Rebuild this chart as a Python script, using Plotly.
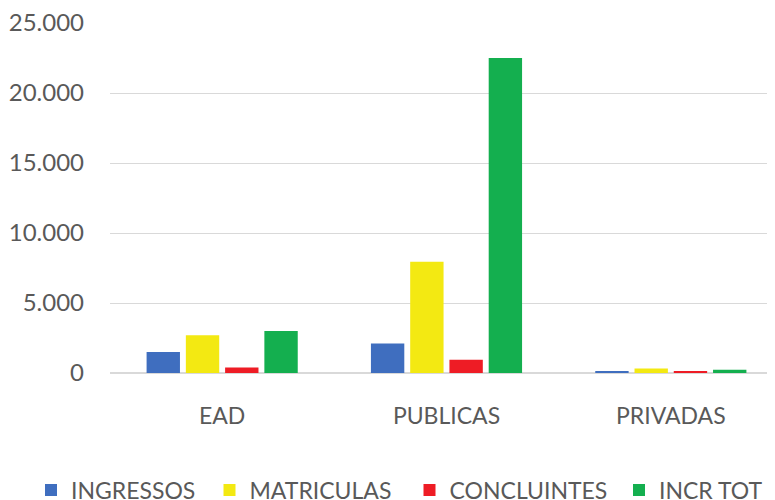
import plotly.graph_objects as go

categories = ["EAD", "PUBLICAS", "PRIVADAS"]
series_names = ["INGRESSOS", "MATRICULAS", "CONCLUINTES", "INCR TOT"]
ingressos = [1500, 2100, 120]
matriculas = [2700, 7950, 330]
concluintes = [400, 950, 120]
incr_tot = [3000, 22500, 230]
colors = ["#3F6EBF", "#F3E912", "#EE1C25", "#14AF4F"]
y_ticks = [0, 5000, 10000, 15000, 20000, 25000]

values = [ingressos, matriculas, concluintes, incr_tot]
legend_ids = ["legend", "legend2", "legend3", "legend4"]
legend_text_x = [63, 241.5, 441.5, 651]  # px where each legend label starts

fig = go.Figure()
for name, vals, col, lid in zip(series_names, values, colors, legend_ids):
    fig.add_trace(go.Bar(x=categories, y=vals, name=name, legend=lid,
                         marker=dict(color=col, line=dict(width=0))))

font = "Lato, Liberation Sans, sans-serif"
legend_layout = {}
for lid, tx in zip(legend_ids, legend_text_x):
    legend_layout[lid] = dict(orientation="h", x=(tx - 40) / 775, xanchor="left", xref="container",
                              y=0.036, yanchor="middle", yref="container",
                              font=dict(size=23, color="#595959"),
                              itemwidth=30, bgcolor="rgba(0,0,0,0)")

fig.update_layout(
    width=775, height=500,
    margin=dict(l=102, r=0, t=15, b=135, autoexpand=False),
    paper_bgcolor="white", plot_bgcolor="white",
    separators=",.",
    barmode="group", bargap=0.3, bargroupgap=0.15,
    font=dict(family=font, size=23, color="#595959"),
    showlegend=True,
    xaxis=dict(range=[-0.5, 2.5], showgrid=False, showline=False, ticks="",
               automargin=False, tickangle=0,
               tickfont=dict(size=23, color="#595959"), ticklabelstandoff=27),
    yaxis=dict(range=[0, 25000], tickvals=y_ticks, tickformat=",d",
               automargin=False, ticklabeloverflow="allow",
               showgrid=True, gridcolor="#D9D9D9", gridwidth=1,
               zeroline=True, zerolinecolor="#D9D9D9", zerolinewidth=2,
               showline=False, ticks="", ticklabelstandoff=25,
               tickfont=dict(size=24, color="#595959")),
    **legend_layout,
)
fig.write_html("out.html")
